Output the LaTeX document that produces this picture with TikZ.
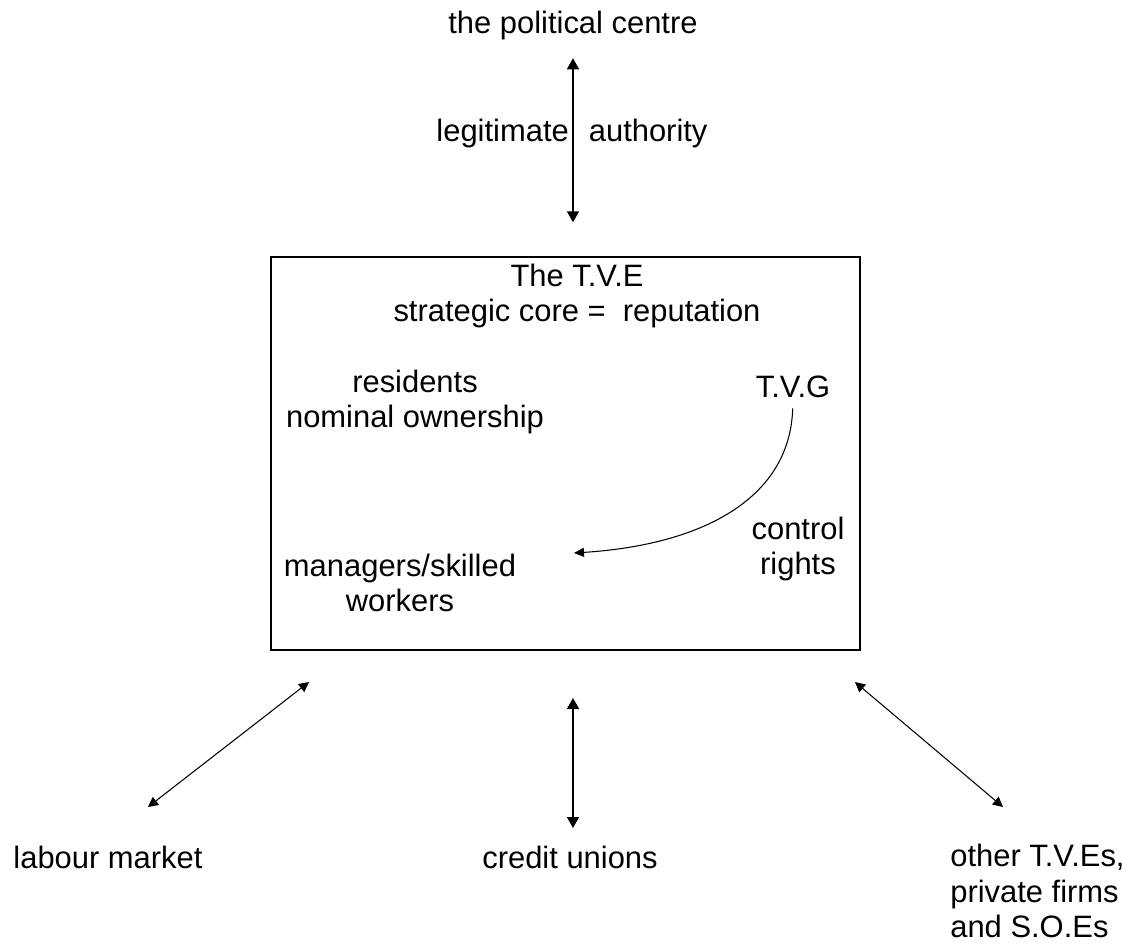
\documentclass[tikz,border=0pt]{standalone}
\usepackage{fontspec}
\setmainfont{Liberation Sans}
\usetikzlibrary{arrows.meta}

\begin{document}
\begin{tikzpicture}[x=0.02cm, y=-0.02cm,
    lbl/.style={font=\fontsize{17.6}{20}\selectfont, align=center, inner sep=0pt},
    biarrow/.style={{Triangle[length=0.22cm,width=0.24cm]}-{Triangle[length=0.22cm,width=0.24cm]}, line width=0.9pt},
    slant/.style={{Triangle[length=0.2cm,width=0.2cm]}-{Triangle[length=0.2cm,width=0.2cm]}, line width=0.6pt}]
  \useasboundingbox (0,0) rectangle (1133,944);

  \node[draw, line width=0.9pt, minimum width=11.78cm, minimum height=7.86cm, inner sep=0pt] (tve) at (565.5,453.5) {};

  \node[lbl] (pol) at (573,25) {the political centre};
  \node[lbl] (legit) at (572,133) {legitimate\hspace{0.65em}authority};
  \node[lbl] (core) at (577,296) {The T.V.E\\strategic core =\ \ reputation};
  \node[lbl] (res) at (415,402) {residents\\nominal ownership};
  \node[lbl] (tvg) at (793,387) {T.V.G};
  \node[lbl] (ctrl) at (798,549) {control\\rights};
  \node[lbl] (mgr) at (400,583) {managers/skilled\\workers};
  \node[lbl] (lab) at (108,857) {labour market};
  \node[lbl] (cred) at (570,857) {credit unions};
  \node[lbl, align=left, anchor=west] (firms) at (950,891) {other T.V.Es,\\ private firms\\and S.O.Es};

  \coordinate (cr) at (574,553);
  \coordinate (lab-a) at (148,807);
  \coordinate (lab-b) at (309,682);
  \coordinate (cred-a) at (573,828);
  \coordinate (cred-b) at (573,698);
  \coordinate (firms-a) at (1003,807);
  \coordinate (firms-b) at (855,682);

  \draw[biarrow, shorten <=0.37cm, shorten >=0.68cm] (pol) -- (pol |- tve.north);
  \draw[line width=0.6pt, -{Triangle[length=0.2cm,width=0.18cm]}, shorten <=0.2cm]
    (tvg.south) .. controls (790,500) and (700,545) .. (cr);
  \draw[slant] (lab-a) -- (lab-b);
  \draw[biarrow] (cred-a) -- (cred-b);
  \draw[slant] (firms-a) -- (firms-b);
\end{tikzpicture}
\end{document}
